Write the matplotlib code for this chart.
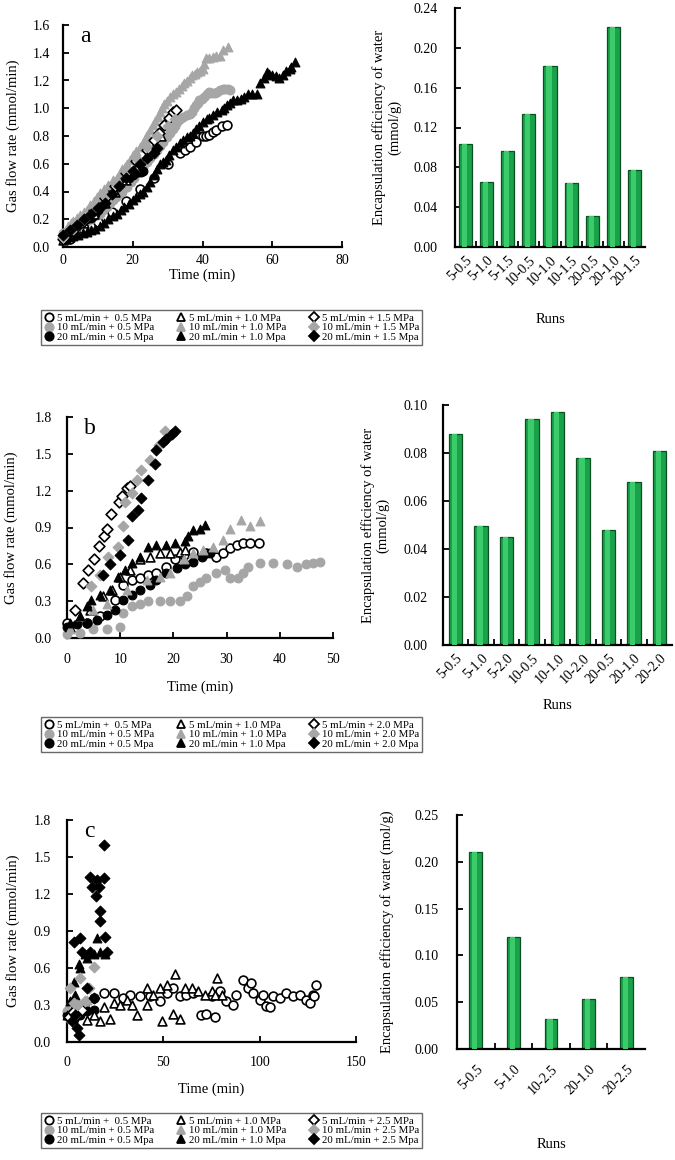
import numpy as np
import matplotlib
matplotlib.use("Agg")
import matplotlib.pyplot as plt
from matplotlib.lines import Line2D
from matplotlib.ticker import FormatStrFormatter

plt.rcParams['font.family'] = ['Liberation Serif', 'DejaVu Serif']

# ---------------- panel a : gas flow rate vs time ----------------
a_c05_t = [2, 6, 10, 14, 18, 22, 26, 30, 33.5, 35, 36.4, 38, 40, 41, 42, 43, 44, 45.5, 47]
a_c05_q = [0.06, 0.12, 0.18, 0.25, 0.33, 0.42, 0.5, 0.6, 0.68, 0.7, 0.72, 0.76, 0.8, 0.8, 0.81, 0.83, 0.84, 0.87, 0.88]
a_g05_t = [0, 1, 2, 3.5, 4.9, 6, 7, 8, 9, 10, 10.6, 11.5, 12.5, 13.4, 14.3, 15.2, 16, 17, 18.3, 19.4,
           20.5, 21.7, 23, 24, 25, 26, 26.9, 27.9, 28.8, 29.8, 30.7, 31.4, 32, 32.8, 33.5, 34.5, 35.5, 36.3,
           37, 37.6, 38, 38.6, 39, 39.8, 40.5, 41.3, 42, 42.8, 43.5, 44.2, 45, 45.8, 46.5, 47.2, 47.8]
a_g05_q = [0.1, 0.11, 0.12, 0.13, 0.15, 0.17, 0.19, 0.2, 0.22, 0.23, 0.24, 0.27, 0.29, 0.32, 0.34, 0.36, 0.38, 0.4, 0.43, 0.47,
           0.5, 0.54, 0.58, 0.61, 0.64, 0.67, 0.7, 0.73, 0.76, 0.79, 0.82, 0.85, 0.87, 0.9, 0.92, 0.94, 0.95, 0.96,
           0.97, 1.0, 1.02, 1.04, 1.06, 1.07, 1.08, 1.1, 1.12, 1.11, 1.11, 1.12, 1.13, 1.14, 1.14, 1.14, 1.13]
a_b05_t = [0, 0.5, 1, 1.7, 2.5, 3.2, 4, 4.9, 5.8, 6.5, 7.2, 7.9, 8.6, 9.1, 9.6, 10.1, 10.6, 11.1, 11.6, 12.1,
           12.6, 13, 13.5, 14.1, 14.8, 15.5, 16.3, 17.1, 18, 19, 20, 20.7, 21.5, 22.3, 23]
a_b05_q = [0.08, 0.09, 0.1, 0.11, 0.12, 0.13, 0.15, 0.18, 0.2, 0.2, 0.21, 0.21, 0.22, 0.24, 0.26, 0.27, 0.29, 0.31, 0.34, 0.36,
           0.39, 0.41, 0.43, 0.44, 0.45, 0.46, 0.47, 0.48, 0.49, 0.5, 0.52, 0.53, 0.54, 0.54, 0.55]
a_c10_t = [0, 3, 6, 9, 12, 15, 18, 21, 24, 26, 28]
a_c10_q = [0.05, 0.1, 0.17, 0.24, 0.32, 0.4, 0.48, 0.57, 0.66, 0.72, 0.8]
a_g10_t = [0, 0.8, 1.5, 2.2, 3, 4, 5, 6, 6.9, 7.8, 8.8, 9.7, 10.6, 11.8, 13, 14.2, 15.5, 16.3, 17, 17.7,
           18.3, 19.2, 20, 21, 22, 22.8, 23.5, 24.2, 25, 25.8, 26.5, 27.2, 27.8, 28.4, 29, 29.8, 30.7, 31.6,
           32.5, 33.3, 34, 34.8, 35.5, 36.3, 37, 37.8, 38.5, 39.3, 40, 40.5, 41, 42, 43, 44, 45, 46, 47.3]
a_g10_q = [0.1, 0.12, 0.15, 0.17, 0.19, 0.21, 0.23, 0.25, 0.27, 0.3, 0.33, 0.36, 0.39, 0.42, 0.45, 0.48, 0.5, 0.53, 0.56, 0.58,
           0.6, 0.63, 0.66, 0.69, 0.72, 0.75, 0.78, 0.81, 0.84, 0.88, 0.91, 0.94, 0.97, 1.0, 1.03, 1.05, 1.08, 1.1,
           1.12, 1.14, 1.16, 1.18, 1.2, 1.22, 1.24, 1.25, 1.26, 1.27, 1.28, 1.32, 1.36, 1.36, 1.37, 1.38, 1.38, 1.42, 1.44]
a_b10_t = [1, 2, 3, 4.4, 5.8, 7, 8, 9.3, 10.6, 11.8, 13, 14.2, 15.4, 16.5, 17.5, 18.8, 20, 21, 22, 23,
           24, 25, 26, 27, 27.8, 28.6, 29.5, 30.5, 31.6, 32.5, 33.5, 34.5, 35.5, 36.4, 37.3, 38.2, 39, 40,
           41.2, 42, 43, 44.2, 45.5, 46.3, 47, 48, 48.8, 50, 51, 52, 53, 54.3, 55.5, 56.5, 57.5, 58.4, 59.2,
           60, 61, 62, 63, 64, 65, 65.5, 66.5]
a_b10_q = [0.06, 0.07, 0.08, 0.09, 0.1, 0.11, 0.12, 0.13, 0.15, 0.17, 0.2, 0.22, 0.24, 0.27, 0.29, 0.31, 0.34, 0.36, 0.38, 0.4,
           0.43, 0.47, 0.52, 0.56, 0.6, 0.61, 0.63, 0.66, 0.7, 0.72, 0.75, 0.77, 0.79, 0.8, 0.82, 0.85, 0.87, 0.9,
           0.92, 0.93, 0.95, 0.97, 0.99, 1.0, 1.02, 1.04, 1.06, 1.06, 1.07, 1.08, 1.1, 1.1, 1.1, 1.18, 1.22, 1.26, 1.25,
           1.24, 1.23, 1.22, 1.24, 1.27, 1.28, 1.3, 1.33]
a_c15_t = [0, 3, 6, 9, 12, 15, 18, 21, 24, 26, 27.5, 29, 30.5, 31.6, 32.5]
a_c15_q = [0.06, 0.12, 0.19, 0.27, 0.35, 0.44, 0.53, 0.62, 0.7, 0.77, 0.82, 0.88, 0.93, 0.97, 0.99]
a_g15_t = [0, 3, 6, 9, 12, 15, 18, 21, 24, 27, 30, 32]
a_g15_q = [0.07, 0.13, 0.2, 0.28, 0.37, 0.46, 0.55, 0.64, 0.72, 0.8, 0.87, 0.92]
a_b15_t = [0, 2, 4, 6, 8, 10, 12, 14, 16, 18, 20, 22, 24, 26, 27]
a_b15_q = [0.09, 0.12, 0.16, 0.2, 0.24, 0.28, 0.32, 0.38, 0.44, 0.5, 0.55, 0.6, 0.64, 0.68, 0.71]

a_runs = ['5-0.5', '5-1.0', '5-1.5', '10-0.5', '10-1.0', '10-1.5', '20-0.5', '20-1.0', '20-1.5']
a_eff = [0.103, 0.065, 0.096, 0.134, 0.182, 0.064, 0.031, 0.221, 0.077]

# ---------------- panel b ----------------
b_c05_t = [0, 3.7, 6.2, 9.0, 10.6, 12.2, 13.7, 15.3, 16.8, 18.7, 20.3, 21.9, 23.7, 26.2, 28.1, 29.4, 30.6, 31.9, 33.1, 34.4, 36.0]
b_c05_q = [0.12, 0.12, 0.18, 0.31, 0.43, 0.47, 0.49, 0.51, 0.53, 0.58, 0.64, 0.68, 0.7, 0.69, 0.66, 0.69, 0.73, 0.76, 0.77, 0.77, 0.77]
b_g05_t = [0, 2.4, 4.9, 7.5, 9.9, 10.6, 12.2, 13.7, 15.3, 17.5, 19.4, 21.2, 22.5, 23.7, 25.0, 26.2, 28.1, 29.7, 30.6, 32.2,
           33.1, 34.1, 36.3, 38.8, 41.3, 43.2, 45.0, 46.3, 47.5]
b_g05_q = [0.03, 0.04, 0.07, 0.07, 0.09, 0.2, 0.26, 0.28, 0.3, 0.3, 0.3, 0.3, 0.34, 0.42, 0.46, 0.49, 0.53, 0.55, 0.49, 0.49,
           0.53, 0.58, 0.61, 0.61, 0.6, 0.58, 0.6, 0.61, 0.62]
b_b05_t = [0, 1.8, 3.7, 5.6, 7.5, 9.0, 10.6, 12.2, 13.7, 15.6, 16.8, 18.7, 20.6, 22.2, 23.7, 25.3, 26.9]
b_b05_q = [0.09, 0.11, 0.12, 0.15, 0.19, 0.23, 0.31, 0.35, 0.39, 0.43, 0.47, 0.53, 0.57, 0.6, 0.62, 0.66, 0.69]
b_c10_t = [0.6, 4.3, 6.8, 8.4, 9.9, 11.8, 13.7, 15.6, 17.5, 19.4, 21.2, 22.2]
b_c10_q = [0.09, 0.23, 0.34, 0.39, 0.5, 0.55, 0.64, 0.66, 0.69, 0.69, 0.7, 0.72]
b_g10_t = [0.6, 2.4, 4.9, 7.5, 11.2, 15.0, 17.5, 19.4, 21.9, 23.7, 25.6, 27.5, 29.4, 30.6, 32.8, 34.4, 36.3]
b_g10_q = [0.07, 0.18, 0.23, 0.28, 0.39, 0.47, 0.5, 0.53, 0.64, 0.69, 0.72, 0.74, 0.8, 0.89, 0.96, 0.91, 0.95]
b_b10_t = [0.6, 2.4, 3.7, 4.6, 6.2, 8.1, 9.6, 10.9, 12.2, 13.7, 15.3, 16.8, 18.7, 20.3, 22.2, 22.8, 23.7, 25.0, 25.9]
b_b10_q = [0.12, 0.18, 0.26, 0.31, 0.35, 0.39, 0.5, 0.55, 0.61, 0.66, 0.74, 0.76, 0.76, 0.77, 0.79, 0.83, 0.88, 0.89, 0.92]
b_c20_t = [1.5, 3.1, 4.0, 5.0, 6.0, 6.9, 7.5, 8.2, 9.7, 10.3, 11.2, 11.9]
b_c20_q = [0.23, 0.45, 0.55, 0.64, 0.75, 0.83, 0.89, 1.01, 1.11, 1.16, 1.22, 1.24]
b_g20_t = [4.6, 6.2, 7.8, 9.6, 10.6, 10.9, 12.2, 13.1, 14.0, 15.6, 17.2, 18.4]
b_g20_q = [0.42, 0.51, 0.66, 0.74, 0.91, 1.11, 1.18, 1.29, 1.37, 1.45, 1.57, 1.69]
b_b20_t = [6.8, 8.1, 9.9, 11.5, 12.2, 13.4, 14.0, 15.3, 16.5, 16.8, 18.1, 18.7, 19.7, 20.3]
b_b20_q = [0.51, 0.6, 0.68, 0.8, 0.99, 1.04, 1.14, 1.29, 1.42, 1.53, 1.6, 1.62, 1.66, 1.69]

b_runs = ['5-0.5', '5-1.0', '5-2.0', '10-0.5', '10-1.0', '10-2.0', '20-0.5', '20-1.0', '20-2.0']
b_eff = [0.088, 0.0495, 0.045, 0.094, 0.097, 0.078, 0.048, 0.068, 0.081]

# ---------------- panel c ----------------
c_c05_t = [3.4, 8.6, 13.8, 19.0, 24.2, 29.3, 32.8, 38.0, 43.1, 48.3, 51.7, 55.2, 58.6, 62.0, 65.5, 69.8, 72.4, 76.7, 75.0,
           79.3, 82.7, 86.2, 87.9, 91.4, 94.0, 95.7, 96.6, 100.0, 101.7, 103.4, 105.2, 106.9, 110.3, 113.8, 117.2,
           120.7, 124.1, 125.9, 127.6, 129.3, 128.4]
c_c05_q = [0.25, 0.3, 0.36, 0.4, 0.4, 0.36, 0.38, 0.37, 0.37, 0.33, 0.4, 0.44, 0.37, 0.38, 0.4, 0.22, 0.23, 0.2, 0.37,
           0.41, 0.33, 0.3, 0.38, 0.5, 0.44, 0.48, 0.4, 0.34, 0.38, 0.29, 0.28, 0.37, 0.36, 0.4, 0.37,
           0.38, 0.34, 0.32, 0.38, 0.46, 0.37]
c_g05_t = [0, 1.7, 5.2, 8.6]
c_g05_q = [0.25, 0.19, 0.22, 0.28]
c_b05_t = [0, 3.4, 6.9, 10.4, 13.8]
c_b05_q = [0.22, 0.19, 0.22, 0.25, 0.26]
c_c10_t = [0.9, 5.2, 10.4, 13.8, 17.3, 19.0, 22.5, 24.2, 27.6, 31.0, 33.6, 36.2, 41.4, 41.4, 44.8, 48.3, 49.1, 51.7,
           55.2, 56.0, 58.6, 61.2, 64.7, 68.1, 71.6, 75.0, 76.7, 77.6, 80.2]
c_c10_q = [0.22, 0.25, 0.18, 0.22, 0.17, 0.28, 0.19, 0.32, 0.3, 0.34, 0.3, 0.22, 0.3, 0.44, 0.38, 0.44, 0.17, 0.46,
           0.23, 0.55, 0.19, 0.44, 0.44, 0.41, 0.38, 0.41, 0.38, 0.52, 0.38]
c_g10_t = [0, 0.8, 3.4, 6.9, 10.4]
c_g10_q = [0.28, 0.22, 0.37, 0.3, 0.34]
c_b10_t = [0, 1.7, 3.4, 4.2, 5.2, 6.0, 6.9, 9.5, 10.4, 13.8, 15.5, 17.2, 19.9]
c_b10_q = [0.22, 0.33, 0.49, 0.38, 0.28, 0.63, 0.6, 0.71, 0.68, 0.71, 0.84, 0.73, 0.71]
c_c25_t = [1.0, 3.0, 5.0, 8.0]
c_c25_q = [0.2, 0.24, 0.22, 0.26]
c_g25_t = [1.7, 3.4, 5.2, 6.9, 9.5, 11.2, 13.8]
c_g25_q = [0.44, 0.32, 0.3, 0.52, 0.33, 0.44, 0.61]
c_b25_t = [2.6, 3.4, 4.2, 5.2, 6.0, 6.9, 7.7, 10.4, 12.1, 12.1, 12.9, 13.8, 15.2, 15.5, 16.4, 16.9, 17.2, 19.0, 19.0, 19.9, 20.7]
c_b25_q = [0.17, 0.81, 0.22, 0.11, 0.054, 0.84, 0.73, 0.44, 1.34, 0.73, 1.26, 0.36, 1.18, 1.31, 1.26, 1.06, 0.98, 1.6, 1.33, 0.85, 0.73]

c_runs = ['5-0.5', '5-1.0', '10-2.5', '20-1.0', '20-2.5']
c_eff = [0.211, 0.120, 0.032, 0.053, 0.077]

GRAY = '#a6a6a6'
GREEN = '#19a24a'
DKGREEN = '#0b4f22'
LTGREEN = '#3ccb6b'

W, H = 675, 1160
fig = plt.figure(figsize=(W / 100, H / 100), dpi=100)


def rect(l, t, r, b):
    return [l / W, 1 - b / H, (r - l) / W, (b - t) / H]


def style_axes(ax, xpad, ypad):
    for s in ('top', 'right'):
        ax.spines[s].set_visible(False)
    for s in ('left', 'bottom'):
        ax.spines[s].set_linewidth(1.6)
    ax.tick_params(direction='in', length=4, width=1.3, labelsize=10)
    ax.tick_params(axis='x', pad=xpad)
    ax.tick_params(axis='y', pad=ypad)


# marker styles in legend order: circle / triangle / diamond, open / gray / black
def marker_kw(shape, shade):
    kw = dict(marker=shape, s=40 if shape != 'D' else 30, zorder=3)
    if shade == 'open':
        kw.update(facecolors='white', edgecolors='black', linewidths=1.2)
    elif shade == 'gray':
        kw.update(facecolors=GRAY, edgecolors=GRAY, linewidths=0.8)
    else:
        kw.update(facecolors='black', edgecolors='black', linewidths=0.8)
    return kw


def scatter_panel(ax, series, xmax, xstep, ymax, ystep, letter, xpad, ypad, xlpad, ylpad):
    for (t, q), (shape, shade) in series:
        ax.scatter(t, q, clip_on=False, **marker_kw(shape, shade))
    ax.set_xlim(0, xmax)
    ax.set_ylim(0, ymax)
    ax.set_xticks(np.arange(0, xmax + 0.01, xstep))
    ax.set_yticks(np.arange(0, ymax + 0.01, ystep))
    ax.yaxis.set_major_formatter(FormatStrFormatter('%.1f'))
    style_axes(ax, xpad, ypad)
    ax.set_ylabel('Gas flow rate (mmol/min)', fontsize=10.5, labelpad=ylpad)
    ax.set_xlabel('Time (min)', fontsize=10.5, labelpad=xlpad)
    ax.annotate(letter, xy=(0, 1), xycoords='axes fraction', xytext=(12, -8),
                textcoords='offset points', fontsize=17, va='center', ha='left')


def bar_panel(ax, runs, vals, width, ymax, ystep, ylabel, xpad, ypad, xlpad, ylpad):
    x = np.arange(len(runs))
    ax.bar(x, vals, width=width, color=GREEN, edgecolor=DKGREEN, linewidth=0.9, zorder=2)
    ax.bar(x - width * 0.08, vals, width=width * 0.4, color=LTGREEN, linewidth=0, zorder=3)
    ax.set_xlim(-0.5, len(runs) - 0.5)
    ax.set_ylim(0, ymax)
    ax.set_yticks(np.arange(0, ymax + 1e-6, ystep))
    ax.yaxis.set_major_formatter(FormatStrFormatter('%.2f'))
    style_axes(ax, xpad, ypad)
    ax.set_xticks(x)
    ax.set_xticklabels(runs, rotation=45, ha='right', rotation_mode='anchor')
    ax.tick_params(axis='x', length=0)
    ax.set_xticks(x[:-1] + 0.5, minor=True)
    ax.tick_params(axis='x', which='minor', direction='in', length=4, width=1.3)
    ax.set_xlabel('Runs', fontsize=10.5, labelpad=xlpad)
    ax.set_ylabel(ylabel, fontsize=10.5, labelpad=ylpad, linespacing=1.1)


def add_legend(top, labels):
    shapes = [('o', 'open'), ('o', 'gray'), ('o', 'black'),
              ('^', 'open'), ('^', 'gray'), ('^', 'black'),
              ('D', 'open'), ('D', 'gray'), ('D', 'black')]
    handles = []
    for shape, shade in shapes:
        fc = {'open': 'white', 'gray': GRAY, 'black': 'black'}[shade]
        ec = 'black' if shade != 'gray' else GRAY
        ms = 6 if shape != 'D' else 5
        handles.append(Line2D([], [], ls='none', marker=shape, markersize=ms,
                              markerfacecolor=fc, markeredgecolor=ec, markeredgewidth=1.3))
    leg = fig.legend(handles, labels, ncol=3, loc='upper left',
                     bbox_to_anchor=(41 / W, 1 - top / H), fontsize=7.8,
                     frameon=True, fancybox=False, edgecolor='#444444',
                     handlelength=0.8, handletextpad=0.35, columnspacing=2.1,
                     labelspacing=0.0, borderpad=0.3, borderaxespad=0)
    leg.get_frame().set_linewidth(1.0)


def legend_labels(p3):
    return ['5 mL/min +  0.5 MPa', '10 mL/min + 0.5 MPa', '20 mL/min + 0.5 Mpa',
            '5 mL/min + 1.0 MPa', '10 mL/min + 1.0 MPa', '20 mL/min + 1.0 Mpa',
            '5 mL/min + %s MPa' % p3, '10 mL/min + %s MPa' % p3, '20 mL/min + %s Mpa' % p3]


styles = [('o', 'open'), ('o', 'gray'), ('o', 'black'),
          ('^', 'open'), ('^', 'gray'), ('^', 'black'),
          ('D', 'open'), ('D', 'gray'), ('D', 'black')]

# ---- a ----
ax = fig.add_axes(rect(63, 25, 342, 247))
a_series = [(a_c05_t, a_c05_q), (a_g05_t, a_g05_q), (a_b05_t, a_b05_q),
            (a_c10_t, a_c10_q), (a_g10_t, a_g10_q), (a_b10_t, a_b10_q),
            (a_c15_t, a_c15_q), (a_g15_t, a_g15_q), (a_b15_t, a_b15_q)]
scatter_panel(ax, list(zip(a_series, styles)), 80, 20, 1.6, 0.2, 'a', 5, 9.5, 1, 9)
ax = fig.add_axes(rect(455, 8, 645, 247))
bar_panel(ax, a_runs, a_eff, 0.62, 0.24, 0.04, 'Encapsulation efficiency of water\n(mmol/g)', 5, 12.5, 18, 9)
add_legend(310, legend_labels('1.5'))

# ---- b ----
ax = fig.add_axes(rect(67, 417, 333, 638))
b_series = [(b_c05_t, b_c05_q), (b_g05_t, b_g05_q), (b_b05_t, b_b05_q),
            (b_c10_t, b_c10_q), (b_g10_t, b_g10_q), (b_b10_t, b_b10_q),
            (b_c20_t, b_c20_q), (b_g20_t, b_g20_q), (b_b20_t, b_b20_q)]
scatter_panel(ax, list(zip(b_series, styles)), 50, 10, 1.8, 0.3, 'b', 11, 11, 10, 12)
ax = fig.add_axes(rect(443, 405, 672, 645))
bar_panel(ax, b_runs, b_eff, 0.53, 0.10, 0.02, 'Encapsulation efficiency of water\n(mmol/g)', 5, 11, 9, 10)
add_legend(717, legend_labels('2.0'))

# ---- c ----
ax = fig.add_axes(rect(67, 820, 356, 1042))
c_series = [(c_c05_t, c_c05_q), (c_g05_t, c_g05_q), (c_b05_t, c_b05_q),
            (c_c10_t, c_c10_q), (c_g10_t, c_g10_q), (c_b10_t, c_b10_q),
            (c_c25_t, c_c25_q), (c_g25_t, c_g25_q), (c_b25_t, c_b25_q)]
scatter_panel(ax, list(zip(c_series, styles)), 150, 50, 1.8, 0.3, 'c', 10, 11.5, 10, 10)
ax = fig.add_axes(rect(457, 815, 645, 1049))
bar_panel(ax, c_runs, c_eff, 0.34, 0.25, 0.05, 'Encapsulation efficiency of water (mol/g)', 10, 13, 29, 15)
add_legend(1113, legend_labels('2.5'))

fig.savefig('out.png', dpi=100)
